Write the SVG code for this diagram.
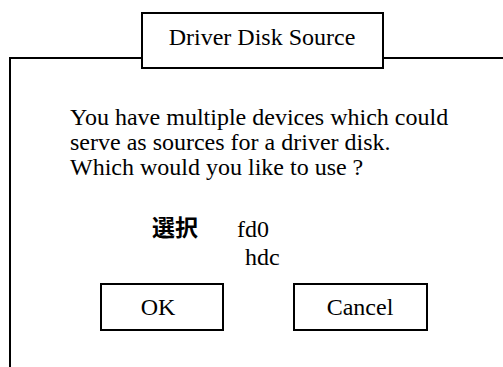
<svg xmlns="http://www.w3.org/2000/svg" width="503" height="367" viewBox="0 0 503 367">
<style>
.t{font-family:"Liberation Serif","Times New Roman",serif;font-size:24px;fill:#000}
.box{fill:#fff;stroke:#000;stroke-width:2}
.ln{fill:none;stroke:#000;stroke-width:2}
.cjk{font-family:"Noto Sans CJK JP","Noto Sans CJK SC",sans-serif;font-weight:bold;font-size:23px;fill:#000}
</style>
<rect width="503" height="367" fill="#fff"/>
<g id="frame">
<path class="ln" d="M10,367 V58 H142 M383,58 H503"/>
</g>
<g id="title">
<rect class="box" x="142" y="13" width="241" height="55"/>
<text class="t" x="262" y="45" text-anchor="middle">Driver Disk Source</text>
</g>
<g id="message">
<text class="t" x="70" y="125">You have multiple devices which could</text>
<text class="t" x="70" y="150">serve as sources for a driver disk.</text>
<text class="t" x="70" y="175">Which would you like to use ?</text>
</g>
<g id="selection">
<text class="cjk" x="152" y="236">選択</text>
<text class="t" x="237" y="237">fd0</text>
<text class="t" x="245" y="265">hdc</text>
</g>
<g id="ok">
<rect class="box" x="101" y="284" width="122" height="46"/>
<text class="t" x="158" y="315" text-anchor="middle">OK</text>
</g>
<g id="cancel">
<rect class="box" x="294" y="284" width="133" height="46"/>
<text class="t" x="360" y="315" text-anchor="middle">Cancel</text>
</g>
<g id="connectors"></g>
</svg>
